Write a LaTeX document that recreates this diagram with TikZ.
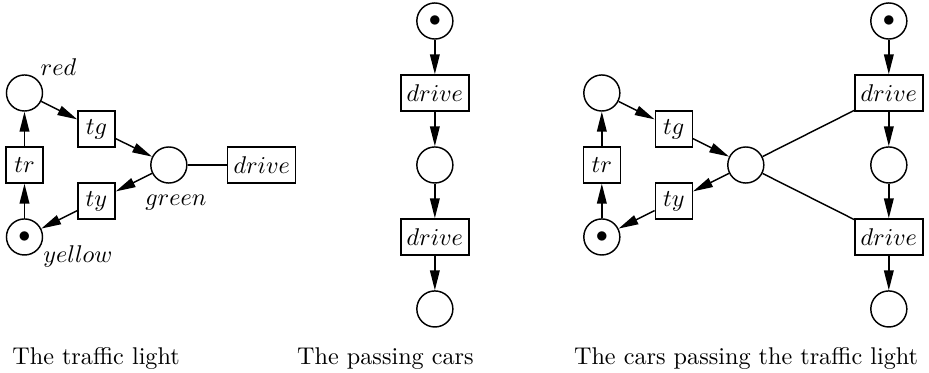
\documentclass[tikz,border=0pt]{standalone}
\usetikzlibrary{arrows.meta,positioning}

\begin{document}
\begin{tikzpicture}[node distance=29.75pt and 29.75pt, on grid, >={Triangle[length=8.2pt,width=4pt]}, semithick]

  \tikzstyle{place} = [circle,draw=black,minimum size=14.9pt,inner sep=0pt];
  \tikzstyle{transition} = [rectangle,draw=black,minimum width=15.3pt,minimum height=14.9pt,inner sep=2.4pt];
  \tikzstyle{caption} = [anchor=base];

  \useasboundingbox (0,0) rectangle (383.9pt,-154.1pt);

  % the traffic light
  \node [place,label={[xshift=-2.4pt,yshift=-1.9pt]above right:$red$}] (red) at (10.12pt,-38.43pt) {};
  \node [transition,below=of red]           (tr)     {$tr$};
  \node [place,below=of tr,label={[xshift=-1.3pt,yshift=5.7pt]below right:$yellow$}] (yellow) {$\bullet$};
  \node [transition,below right=14.88pt and 29.75pt of red] (tg) {$tg$};
  \node [transition,below=of tg]            (ty)     {$ty$};
  \node [place,below right=14.88pt and 29.9pt of tg,label={[xshift=2.9pt,yshift=-1pt]below:$green$}] (green) {};
  \node [transition,right=38.4pt of green]  (drive)  {$drive$};

  \draw[->] (red) -- (tg);
  \draw[->] (tg) -- (green);
  \draw[->] (green) -- (ty);
  \draw[->] (ty) -- (yellow);
  \draw[->] (yellow) -- (tr);
  \draw[->] (tr) -- (red);
  \draw (green) -- (drive);

  % the passing cars
  \node [place]                      (carin)   at (179.7pt,-8.68pt) {$\bullet$};
  \node [transition,below=of carin]  (drivea)  {$drive$};
  \node [place,below=of drivea]      (carmid)  {};
  \node [transition,below=of carmid] (driveb)  {$drive$};
  \node [place,below=of driveb]      (carout)  {};

  \draw[->] (carin) -- (drivea);
  \draw[->] (drivea) -- (carmid);
  \draw[->] (carmid) -- (driveb);
  \draw[->] (driveb) -- (carout);

  % the cars passing the traffic light
  \node [place]                       (red2)    at (248.7pt,-38.43pt) {};
  \node [transition,below=of red2]    (tr2)     {$tr$};
  \node [place,below=of tr2]          (yellow2) {$\bullet$};
  \node [transition,below right=14.88pt and 29.75pt of red2] (tg2) {$tg$};
  \node [transition,below=of tg2]     (ty2)     {$ty$};
  \node [place,below right=14.88pt and 29.75pt of tg2] (green2) {};

  \node [place]                       (carin2)  at (367.3pt,-8.68pt) {$\bullet$};
  \node [transition,below=of carin2]  (drivea2) {$drive$};
  \node [place,below=of drivea2]      (carmid2) {};
  \node [transition,below=of carmid2] (driveb2) {$drive$};
  \node [place,below=of driveb2]      (carout2) {};

  \draw[->] (red2) -- (tg2);
  \draw[->] (tg2) -- (green2);
  \draw[->] (green2) -- (ty2);
  \draw[->] (ty2) -- (yellow2);
  \draw[->] (yellow2) -- (tr2);
  \draw[->] (tr2) -- (red2);
  \draw (green2) -- (drivea2);
  \draw (green2) -- (driveb2);
  \draw[->] (carin2) -- (drivea2);
  \draw[->] (drivea2) -- (carmid2);
  \draw[->] (carmid2) -- (driveb2);
  \draw[->] (driveb2) -- (carout2);

  % captions
  \node [caption] (cap1) at (39.7pt,-150.8pt)  {The traffic light};
  \node [caption] (cap2) at (159.3pt,-150.8pt) {The passing cars};
  \node [caption] (cap3) at (308.3pt,-150.8pt) {The cars passing the traffic light};

\end{tikzpicture}
\end{document}
